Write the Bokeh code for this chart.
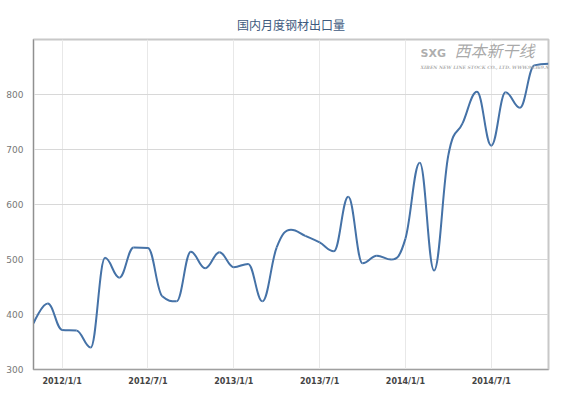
from bokeh.plotting import figure
from bokeh.models import FixedTicker, Label, Range1d, Title
from bokeh.embed import file_html
from bokeh.resources import INLINE

months = ["2011/11", "2011/12",
          "2012/1", "2012/2", "2012/3", "2012/4", "2012/5", "2012/6",
          "2012/7", "2012/8", "2012/9", "2012/10", "2012/11", "2012/12",
          "2013/1", "2013/2", "2013/3", "2013/4", "2013/5", "2013/6",
          "2013/7", "2013/8", "2013/9", "2013/10", "2013/11", "2013/12",
          "2014/1", "2014/2", "2014/3", "2014/4", "2014/5", "2014/6",
          "2014/7", "2014/8", "2014/9", "2014/10", "2014/11"]
values = [384, 420,
          372, 371, 340, 503, 467, 522,
          521, 433, 424, 514, 484, 513,
          486, 492, 424, 522, 554, 543,
          531, 515, 614, 493, 507, 500,
          538, 676, 480, 690, 748, 805,
          707, 804, 776, 853, 856]
tick_labels = ["2012/1/1", "2012/7/1", "2013/1/1", "2013/7/1", "2014/1/1", "2014/7/1"]
y_ticks = [300, 400, 500, 600, 700, 800]

xs = list(range(len(months)))
ys = values

# Highcharts-style spline control points
smoothing, denom = 1.5, 2.5
n = len(xs)
lc = [(xs[i], ys[i]) for i in range(n)]
rc = [(xs[i], ys[i]) for i in range(n)]
for i in range(1, n - 1):
    px, py = xs[i], ys[i]
    lx, ly = xs[i - 1], ys[i - 1]
    nx, ny = xs[i + 1], ys[i + 1]
    lcx = (smoothing * px + lx) / denom
    lcy = (smoothing * py + ly) / denom
    rcx = (smoothing * px + nx) / denom
    rcy = (smoothing * py + ny) / denom
    corr = ((rcy - lcy) * (rcx - px)) / (rcx - lcx) + py - rcy
    lcy += corr
    rcy += corr
    if lcy > ly and lcy > py:
        lcy = max(ly, py); rcy = 2 * py - lcy
    elif lcy < ly and lcy < py:
        lcy = min(ly, py); rcy = 2 * py - lcy
    if rcy > ny and rcy > py:
        rcy = max(ny, py); lcy = 2 * py - rcy
    elif rcy < ny and rcy < py:
        rcy = min(ny, py); lcy = 2 * py - rcy
    lc[i] = (lcx, lcy)
    rc[i] = (rcx, rcy)

bx0 = xs[:-1]; by0 = ys[:-1]; bx1 = xs[1:]; by1 = ys[1:]
cx0 = [rc[i][0] for i in range(n - 1)]
cy0 = [rc[i][1] for i in range(n - 1)]
cx1 = [lc[i][0] for i in range(1, n)]
cy1 = [lc[i][1] for i in range(1, n)]

p = figure(width=568, height=394, output_backend="svg", toolbar_location=None,
           x_range=Range1d(0, len(months) - 1), y_range=Range1d(300, 900),
           min_border_left=33, min_border_right=20, min_border_top=39,
           min_border_bottom=25)

p.title = Title(text="国内月度钢材出口量", align="center",
                text_font="Noto Sans CJK SC", text_font_size="12px",
                text_font_style="normal", text_color="#3E5A7E", standoff=14)

p.bezier(x0=bx0, y0=by0, x1=bx1, y1=by1, cx0=cx0, cy0=cy0, cx1=cx1, cy1=cy1,
         line_color="#4572A7", line_width=2)

tick_pos = [months.index(t[:-2]) for t in tick_labels]
p.xaxis.ticker = FixedTicker(ticks=tick_pos)
p.xaxis.major_label_overrides = {tp: lab for tp, lab in zip(tick_pos, tick_labels)}
p.yaxis.ticker = FixedTicker(ticks=y_ticks)

p.xgrid.grid_line_color = "#e8e8e8"
p.ygrid.grid_line_color = "#d8d8d8"
p.xgrid.grid_line_width = 1
p.ygrid.grid_line_width = 1

for ax in (p.xaxis, p.yaxis):
    ax.major_tick_line_color = None
    ax.minor_tick_line_color = None
    ax.major_tick_out = 0
    ax.major_tick_in = 0
p.xaxis.axis_line_color = "#a0a0a0"
p.yaxis.axis_line_color = "#909090"
p.xaxis.major_label_text_font = "DejaVu Sans"
p.xaxis.major_label_text_font_size = "8px"
p.xaxis.major_label_text_font_style = "bold"
p.xaxis.major_label_text_color = "#444444"
p.xaxis.major_label_standoff = 7
p.yaxis.major_label_text_font = "DejaVu Sans"
p.yaxis.major_label_text_font_size = "9px"
p.yaxis.major_label_text_color = "#777777"
p.yaxis.major_label_standoff = 10
p.yaxis.major_label_text_baseline = "bottom"

p.outline_line_color = "#c8c8c8"
p.outline_line_width = 2

# watermark (screen units relative to plot frame)
p.add_layout(Label(x=421, y=308, x_units="screen", y_units="screen",
                   text="西本新干线", text_font="Noto Sans CJK SC",
                   text_font_size="16px", text_font_style="italic",
                   text_color="#9a9a9a", text_alpha=0.85))
p.add_layout(Label(x=387, y=310, x_units="screen", y_units="screen",
                   text="SXG", text_font="DejaVu Sans",
                   text_font_size="11px", text_font_style="bold",
                   text_color="#a0a0a0", text_alpha=0.85))
p.add_layout(Label(x=387, y=300, x_units="screen", y_units="screen",
                   text="XIBEN NEW LINE STOCK CO., LTD.       WWW.96369.NET",
                   text_font="DejaVu Serif", text_font_size="4.5px",
                   text_font_style="bold italic",
                   text_color="#a0a0a0", text_alpha=0.85))

p.background_fill_color = "white"
p.border_fill_color = "white"

open("out.html", "w").write(file_html(p, INLINE))
